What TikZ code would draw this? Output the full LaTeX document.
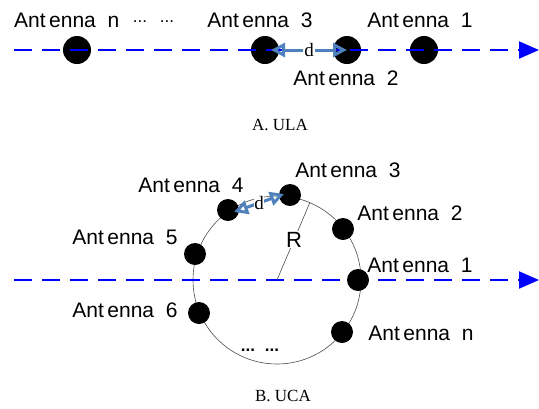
\documentclass[tikz,border=0pt]{standalone}
\usepackage{fontspec}
\setmainfont{Liberation Serif}
\setsansfont{Liberation Sans}
\usetikzlibrary{arrows.meta}
\definecolor{steel}{RGB}{79,129,189}
\begin{document}
\begin{tikzpicture}[x=1pt, y=-1pt,
    ant/.style={font=\sffamily\fontsize{21}{23}\selectfont, inner sep=0pt},
    dotbig/.style={circle, fill=black, minimum size=28pt, inner sep=0pt},
    dotsmall/.style={circle, fill=black, minimum size=22pt, inner sep=0pt},
    wave/.style={blue, line width=2pt, dash pattern=on 18pt off 10pt, -{Triangle[length=20pt, width=17pt]}},
    darrow/.style={draw=steel, line width=3pt, {Triangle[open, length=14pt, width=14pt]}-{Triangle[open, length=14pt, width=14pt]}},
    elide/.style={font=\sffamily\fontsize{17}{19}\selectfont, inner sep=0pt},
    caption/.style={font=\fontsize{17}{19}\selectfont}]
    \useasboundingbox (0,0) rectangle (539,408);

    % A : ULA
    \node[dotbig] (ulan) at (77,50) {};
    \node[dotbig] (ula3) at (265,50) {};
    \node[dotbig] (ula2) at (347,50) {};
    \node[dotbig] (ula1) at (424,50) {};
    \coordinate (ulaL) at (14,50);
    \coordinate (ulaR) at (539,50);
    \draw[wave] (ulaL) -- (ulaR);
    \draw[darrow] ([xshift=6pt]ula3.center) -- (ula2.center) node[midway, fill=white, inner sep=1pt, font=\fontsize{19}{21}\selectfont] (uld) {d};

    \node[ant, anchor=west] (lulan) at (14,20) {Ant\,enna\ \ n};
    \node[elide] (ldots1) at (140,22) {...};
    \node[elide] (ldots2) at (167,22) {...};
    \node[ant] (lula3) at (260,20) {Ant\,enna\ \ 3};
    \node[ant] (lula1) at (420,20) {Ant\,enna\ \ 1};
    \node[ant] (lula2) at (346,78) {Ant\,enna\ \ 2};
    \node[caption] (capa) at (280,125) {A. ULA};

    % B : UCA
    \coordinate (uca) at (277,280);
    \draw[black!70, line width=0.6pt] (uca) circle (84);
    \coordinate (ucaL) at (14,280);
    \coordinate (ucaR) at (539,280);
    \draw[wave] (ucaL) -- (ucaR);
    \coordinate (ucaRim) at ([shift={(-67:84)}]uca);
    \draw[black!70, line width=0.6pt] (uca) -- (ucaRim) node[pos=0.52, fill=white, text=black, inner sep=1pt, font=\sffamily\fontsize{22}{24}\selectfont] (lR) {R};

    \node[dotsmall] (uca1) at (358,280) {};
    \node[dotsmall] (uca2) at (343,229) {};
    \node[dotsmall] (uca3) at (290,195) {};
    \node[dotsmall] (uca4) at (228,210) {};
    \node[dotsmall] (uca5) at (195,254) {};
    \node[dotsmall] (uca6) at (199,313) {};
    \node[dotsmall] (ucan) at (342,332) {};
    \draw[darrow] ([shift={(6pt,-2pt)}]uca4.center) -- ([shift={(-6pt,1pt)}]uca3.center) node[midway, fill=white, inner sep=0.5pt, font=\fontsize{19}{21}\selectfont] (ucd) {d};

    \node[ant] (luca3) at (348,170) {Ant\,enna\ \ 3};
    \node[ant] (luca2) at (410,213) {Ant\,enna\ \ 2};
    \node[ant] (luca1) at (420,265) {Ant\,enna\ \ 1};
    \node[ant] (lucan) at (421,333) {Ant\,enna\ \ n};
    \node[ant] (luca4) at (191,185) {Ant\,enna\ \ 4};
    \node[ant] (luca5) at (125,237) {Ant\,enna\ \ 5};
    \node[ant] (luca6) at (125,310) {Ant\,enna\ \ 6};
    \node[elide, font=\sffamily\bfseries\fontsize{17}{19}\selectfont] (udots1) at (248,350) {...};
    \node[elide, font=\sffamily\bfseries\fontsize{17}{19}\selectfont] (udots2) at (272,350) {...};
    \node[caption] (capb) at (283,396) {B. UCA};
\end{tikzpicture}
\end{document}
